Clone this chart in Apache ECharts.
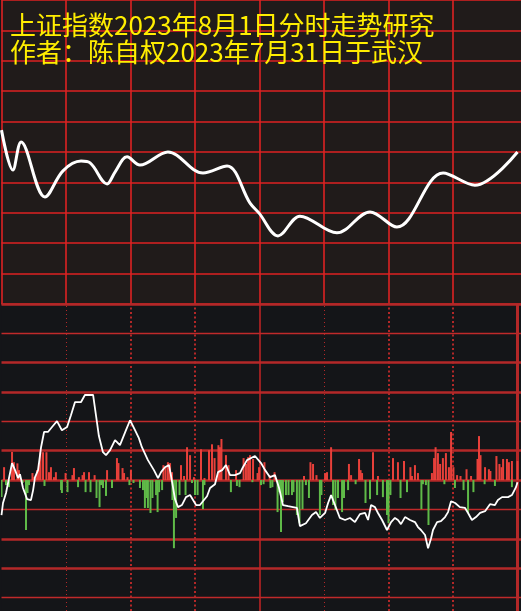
<!DOCTYPE html>
<html><head><meta charset="utf-8">
<script src="https://cdn.jsdelivr.net/npm/echarts@6/dist/echarts.min.js"></script>
<style>html,body{margin:0;padding:0;background:#141518;}#c{width:521px;height:611px;}</style>
</head><body><div id="c"></div>
<script>
// ---- text ----
const titleLines = ['上证指数2023年8月1日分时走势研究', '作者：陈自权2023年7月31日于武汉'];

// ---- top panel: intraday trend (minutes 0..240, arbitrary units) ----
const trendTimes  = [0, 5.3, 9.1, 20.2, 28.6, 37.0, 41.2, 49.1, 52.8, 58.4, 64.4, 77.4, 93.7, 104.9, 115.6, 119.8, 128.6, 138.8, 156.0, 171.4, 183.9, 205.4, 220.2, 240];
const trendValues = [5.72, 4.41, 5.33, 3.52, 4.38, 4.70, 4.64, 3.95, 4.34, 4.84, 4.57, 5.00, 4.31, 4.54, 3.32, 2.99, 2.24, 2.89, 2.34, 3.03, 2.53, 4.31, 3.91, 5.00];

// ---- bottom panel: flow line ----
const flowTimes = [
  0,0.7,2.1,3.5,4.9,6.3,7.7,8.6,10.0,11.9,
  13.7,14.7,15.6,17.0,18.4,19.8,21.6,23.5,25.8,28.1,
  30.5,32.3,34.2,37.0,38.8,42.6,44.0,45.3,47.2,48.6,
  50.5,52.8,55.1,57.9,59.8,62.1,63.9,65.3,68.1,70.9,
  72.8,74.2,76.0,77.9,78.8,80.7,82.1,83.9,85.8,87.7,
  89.1,90.5,92.3,93.7,95.6,97.0,99.3,100.7,102.6,104.4,
  106.3,108.6,110.9,112.3,114.2,117.9,120.7,122.6,124.9,127.2,
  129.1,130.9,133.3,135.6,137.4,138.8,141.6,144.4,146.3,148.1,
  150.5,151.9,153.3,155.1,157.4,159.8,162.1,164.4,166.7,169.1,
  170.5,171.9,173.7,175.1,177.0,179.3,181.2,183.0,184.4,185.8,
  187.7,190.0,192.3,193.7,195.1,197.0,198.4,199.8,200.7,202.6,
  204.4,206.3,207.7,209.1,211.0,213.2,215.6,217.0,218.8,220.7,
  222.6,224.9,227.2,229.5,230.9,232.8,235.6,237.4,239.3,240];
const flowValues = [
  -11.9,-7.8,-4.4,0.7,5.8,3.4,0.7,2.0,-2.7,-6.5,
  -6.8,-3.4,1.0,3.4,11.2,16.4,16.4,18.1,20.1,17.0,
  18.1,22.1,26.6,26.6,29.0,29.0,21.8,15.0,9.5,8.5,
  10.2,13.6,11.9,17.0,20.4,17.0,14.3,11.2,6.8,3.4,
  0.7,2.7,4.4,5.1,1.7,-6.5,-9.2,-8.5,-5.8,-5.1,
  -6.8,-8.5,-8.5,-7.2,-5.5,-2.7,-1.4,2.7,3.4,5.1,
  1.7,1.7,2.4,4.4,6.8,8.2,5.8,3.4,1.0,1.7,
  -2.7,-8.5,-8.9,-9.2,-9.5,-15.7,-14.7,-11.9,-10.9,-12.9,
  -11.2,-7.8,-5.1,-8.5,-12.9,-13.6,-12.9,-14.3,-11.6,-11.2,
  -13.6,-8.5,-9.2,-11.2,-13.6,-17.0,-14.3,-12.9,-13.6,-15.0,
  -12.6,-13.6,-14.3,-16.0,-17.0,-18.7,-23.2,-19.8,-17.0,-14.3,
  -14.0,-12.6,-10.9,-7.2,-7.8,-9.2,-9.5,-11.2,-13.6,-12.6,
  -11.2,-10.6,-8.2,-8.5,-6.8,-5.8,-5.8,-5.1,-2.4,-0.7];

// ---- bottom panel: up (red) bars ----
const upTimes = [
  1.2,4.9,5.8,7.4,8.1,14.4,15.1,16.5,17.4,18.1,
  19.3,20.9,22.1,23.0,24.4,25.3,29.8,33.0,33.7,36.0,
  37.7,38.4,40.7,43.3,49.1,53.7,54.4,56.3,57.0,58.6,
  60.2,75.3,76.3,77.4,78.4,79.3,83.5,84.9,86.3,87.7,
  89.5,92.8,94.4,96.5,97.9,99.1,100.9,101.6,102.3,104.4,
  105.6,109.1,112.6,113.7,114.7,115.6,117.0,119.1,119.8,122.3,
  124.7,127.0,140.7,143.7,144.9,146.5,150.5,151.4,153.3,161.6,
  162.6,166.3,167.0,167.7,172.8,175.1,182.1,184.4,187.2,190.2,
  190.9,192.3,193.7,200.2,201.2,201.9,203.0,204.0,205.3,206.7,
  208.1,209.1,210.2,211.9,213.5,216.3,218.4,221.4,222.1,222.8,
  224.9,226.7,227.4,230.2,231.6,232.6,233.3,235.1,236.0,237.4,
  240];
const upValues = [
  4.4,9.6,6.1,5.7,3.4,2.4,1.0,3.4,5.8,9.5,
  9.5,9.5,2.7,4.4,1.0,2.7,2.4,1.7,4.1,1.0,
  1.7,2.7,2.7,1.7,3.4,7.5,5.8,4.1,2.4,1.0,
  3.4,5.1,4.4,6.1,5.8,2.7,5.1,1.4,11.2,8.5,
  1.0,10.5,0.7,10.2,12.2,7.5,11.9,11.2,14.0,8.5,
  5.1,3.4,7.5,5.5,7.8,8.5,7.2,2.4,4.4,6.1,
  1.7,2.7,1.4,6.1,5.5,1.7,2.4,2.7,11.2,5.5,
  1.7,7.2,3.4,2.4,9.5,1.4,7.5,6.1,6.5,4.4,
  1.4,5.1,2.4,2.4,7.5,11.2,9.2,5.5,7.5,9.2,
  4.4,16.4,4.4,1.7,1.4,3.7,1.4,7.2,15.0,8.5,
  4.4,3.7,3.1,8.2,5.5,4.4,7.2,7.2,6.1,6.5,
  6.5];

// ---- bottom panel: down (green) bars ----
const downTimes = [
  0.0,2.1,3.5,9.8,11.4,12.1,12.8,20.0,27.7,28.1,
  30.7,35.6,39.1,41.4,44.2,45.6,46.3,47.2,48.6,51.4,
  59.5,61.4,64.4,65.8,66.7,67.4,68.1,69.3,70.2,71.9,
  72.6,73.3,74.7,79.5,80.2,81.2,82.8,85.6,88.6,90.0,
  91.2,93.7,94.4,106.7,109.5,110.7,116.7,120.7,121.9,125.1,
  126.0,128.4,129.1,130.0,130.9,132.3,133.5,135.1,135.8,137.4,
  138.6,140.0,141.6,143.0,148.1,148.8,154.2,155.3,156.5,158.4,
  159.3,161.2,164.7,169.3,171.4,174.7,177.4,179.3,180.0,180.9,
  185.6,188.6,195.3,196.0,197.4,198.6,206.0,210.9,214.9,217.0,
  219.5,224.7,229.5,237.4];
const downValues = [
  -5.8,-1.7,-2.4,-1.0,-17.0,-4.4,-1.7,-2.0,-3.4,-4.4,
  -4.1,-2.4,-4.1,-4.1,-6.1,-9.2,-1.7,-2.7,-5.4,-2.7,
  -1.7,-1.0,-2.7,-3.4,-9.5,-6.1,-9.5,-11.2,-6.1,-5.1,
  -10.9,-4.1,-3.4,-6.8,-23.2,-12.9,-5.1,-5.1,-1.0,-5.1,
  -5.1,-9.9,-1.7,-4.1,-2.0,-2.4,-0.7,-1.7,-1.4,-2.7,
  -2.4,-10.9,-4.1,-17.7,-7.5,-5.1,-5.1,-5.1,-4.1,-11.9,
  -14.7,-9.9,-1.7,-6.1,-11.9,-5.1,-8.5,-10.2,-6.1,-10.9,
  -6.1,-3.4,-1.4,-7.8,-6.5,-5.1,-5.8,-11.9,-14.7,-5.1,
  -6.1,-4.1,-9.9,-1.4,-1.7,-15.3,-1.4,-2.7,-3.4,-11.2,
  -4.1,-1.4,-2.0,-2.4];

// ---- grid reference levels ----
const topVerticals = [0, 30, 60, 90, 120, 150, 180, 210];
const bottomLevels = [60, 50, 40, 30, 20, 10, 0, -10, -20, -30, -40];
const bottomVerticals = [30, 60, 90, 120, 150, 180, 210, 240];

const pairs = (xs, ys) => xs.map((x, i) => [x, ys[i]]);
const xMax = 240 * 519.5 / 516;
const hidden = { axisLine: {show: false}, axisTick: {show: false}, axisLabel: {show: false} };

const topRed = '#dd2222';
const botRed = '#b42828';

function vStyle(m) {
  if (m === 120) return { color: '#c42424', width: 1.5, type: 'solid' };
  if (m === 240) return { color: botRed, width: 3, type: 'solid' };
  if (m === 30 || m === 150) return { color: botRed, width: 1, type: [1, 3] };
  return { color: botRed, width: 2, type: [2, 2.5] };
}

const chart = echarts.init(document.getElementById('c'), null, {renderer: 'canvas'});
chart.setOption({
  animation: false,
  backgroundColor: '#141518',
  title: {
    text: titleLines.join('\n'), left: 5, top: 7, z: 20,
    textStyle: { color: '#ffee00', fontSize: 26, fontWeight: 'normal', fontFamily: 'Noto Sans CJK SC', lineHeight: 27 }
  },
  grid: [
    { left: 1.5, right: 0, top: 0, height: 304, show: true, backgroundColor: '#201b1a', borderWidth: 0 },
    { left: 1.5, right: 0, top: 304, bottom: 0, show: true, backgroundColor: '#141518', borderWidth: 0 }
  ],
  xAxis: [
    Object.assign({ type: 'value', gridIndex: 0, min: 0, max: xMax, splitLine: {show: false} }, hidden),
    Object.assign({ type: 'value', gridIndex: 1, min: 0, max: xMax, splitLine: {show: false} }, hidden)
  ],
  yAxis: [
    Object.assign({ type: 'value', gridIndex: 0, min: 0, max: 10, interval: 1,
      splitLine: { show: true, lineStyle: { color: topRed, width: 1.6 } } }, hidden),
    Object.assign({ type: 'value', gridIndex: 1, min: -44.6, max: 60, splitLine: {show: false} }, hidden)
  ],
  series: [
    {
      type: 'line', xAxisIndex: 0, yAxisIndex: 0, z: 3,
      data: pairs(trendTimes, trendValues), smooth: 0.35, symbol: 'none',
      lineStyle: { color: '#ffffff', width: 3 },
      markLine: {
        silent: true, symbol: 'none', z: 1, label: {show: false},
        lineStyle: { color: topRed, width: 1.6, type: 'solid' },
        data: topVerticals.map(v => ({ xAxis: v }))
      }
    },
    {
      type: 'bar', xAxisIndex: 1, yAxisIndex: 1, z: 2, barWidth: 2, barGap: '-100%',
      data: pairs(upTimes, upValues), itemStyle: { color: '#e8403a' },
      markLine: {
        silent: true, symbol: 'none', z: 1, label: {show: false},
        data: bottomLevels.map(v => ({ yAxis: v,
          lineStyle: { color: ((v - 50) % 30 === 0) ? '#c02a2a' : botRed, type: 'solid', width: ((v - 50) % 30 === 0) ? 1.3 : 2.5 } }))
          .concat(bottomVerticals.map(m => ({ xAxis: m, lineStyle: vStyle(m) })))
      }
    },
    {
      type: 'bar', xAxisIndex: 1, yAxisIndex: 1, z: 2, barWidth: 2, barGap: '-100%',
      data: pairs(downTimes, downValues), itemStyle: { color: '#5fba48' }
    },
    {
      type: 'line', xAxisIndex: 1, yAxisIndex: 1, z: 4,
      data: pairs(flowTimes, flowValues), symbol: 'none',
      lineStyle: { color: '#ffffff', width: 1.8 }
    }
  ]
});
</script></body></html>
